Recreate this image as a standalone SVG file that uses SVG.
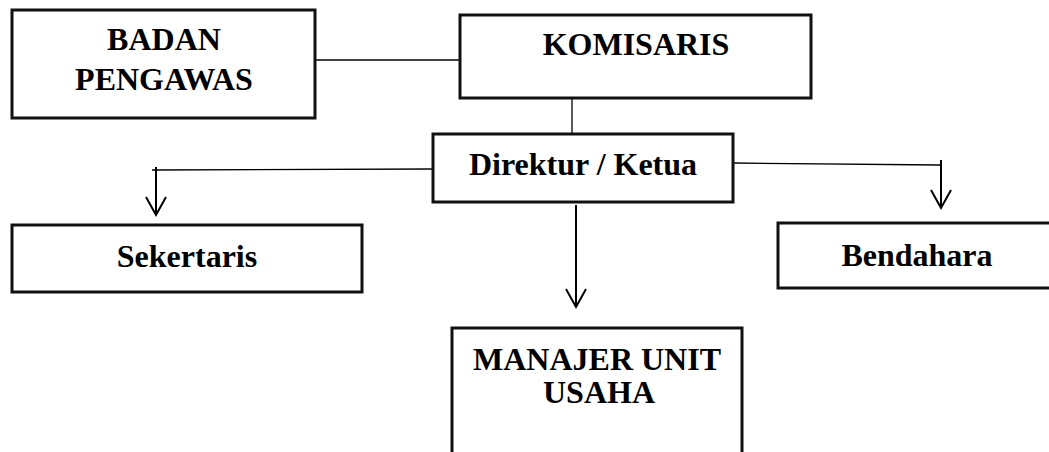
<svg xmlns="http://www.w3.org/2000/svg" width="1049" height="452" viewBox="0 0 1049 452">
<style>
.box{fill:#fff;stroke:#111;stroke-width:3}
.t{font-family:"Liberation Serif","Times New Roman",serif;font-weight:bold;font-size:32px;fill:#000;text-anchor:middle}
.ln{stroke:#000;stroke-width:1.3;fill:none}
.ar{stroke:#000;stroke-width:2;fill:none}
</style>
<rect width="1049" height="452" fill="#fff"/>
<g id="connectors">
<line class="ln" x1="315" y1="60" x2="465" y2="60"/>
<line class="ln" x1="572" y1="98" x2="572" y2="134"/>
<line class="ln" x1="433" y1="169" x2="152" y2="170"/>
<path class="ar" d="M156 167 V215 M146 197 L156 215 L166 197"/>
<line class="ln" x1="733" y1="163" x2="941" y2="165"/>
<path class="ar" d="M941 160 V208 M931 190 L941 208 L951 190"/>
<path class="ar" d="M576 205 V307 M566 289 L576 307 L586 289"/>
</g>
<g id="badan-pengawas">
<rect class="box" x="12" y="10" width="303" height="108"/>
<text class="t" x="164" y="50">BADAN</text>
<text class="t" x="164" y="90">PENGAWAS</text>
</g>
<g id="komisaris">
<rect class="box" x="460" y="15" width="351" height="83"/>
<text class="t" x="636" y="55">KOMISARIS</text>
</g>
<g id="direktur">
<rect class="box" x="433" y="134" width="300" height="68"/>
<text class="t" x="583" y="175">Direktur / Ketua</text>
</g>
<g id="sekertaris">
<rect class="box" x="12" y="225" width="350" height="67"/>
<text class="t" x="187" y="267">Sekertaris</text>
</g>
<g id="bendahara">
<rect class="box" x="778" y="223" width="290" height="65"/>
<text class="t" x="917" y="266">Bendahara</text>
</g>
<g id="manajer">
<rect class="box" x="452" y="328" width="290" height="140"/>
<text class="t" x="597" y="370">MANAJER UNIT</text>
<text class="t" x="599" y="403">USAHA</text>
</g>
</svg>
